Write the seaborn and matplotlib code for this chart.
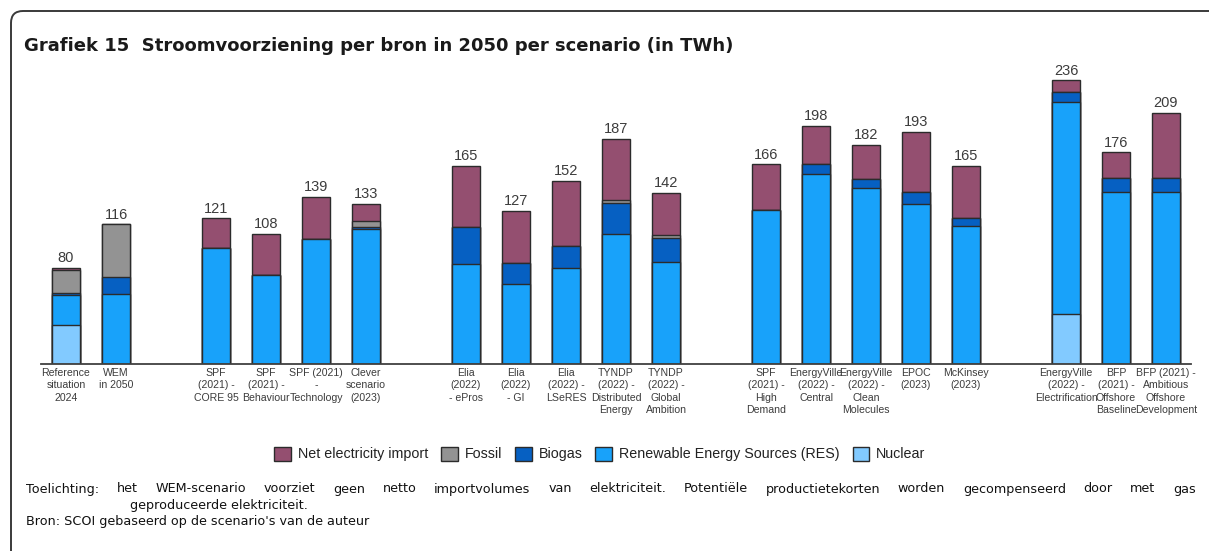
import numpy as np
import matplotlib
matplotlib.use("Agg")
import matplotlib.pyplot as plt
import seaborn as sns
from matplotlib import font_manager
from matplotlib.patches import FancyBboxPatch, Patch

# ---- data (TWh in 2050 per scenario) ----
scenarios = [
    "Reference\nsituation\n2024", "WEM\nin 2050",
    "SPF\n(2021) -\nCORE 95", "SPF\n(2021) -\nBehaviour", "SPF (2021)\n-\nTechnology",
    "Clever\nscenario\n(2023)",
    "Elia\n(2022)\n- ePros", "Elia\n(2022)\n- GI", "Elia\n(2022) -\nLSeRES",
    "TYNDP\n(2022) -\nDistributed\nEnergy", "TYNDP\n(2022) -\nGlobal\nAmbition",
    "SPF\n(2021) -\nHigh\nDemand", "EnergyVille\n(2022) -\nCentral",
    "EnergyVille\n(2022) -\nClean\nMolecules", "EPOC\n(2023)", "McKinsey\n(2023)",
    "EnergyVille\n(2022) -\nElectrification", "BFP\n(2021) -\nOffshore\nBaseline",
    "BFP (2021) -\nAmbitious\nOffshore\nDevelopment",
]
positions = [0, 1, 3, 4, 5, 6, 8, 9, 10, 11, 12, 14, 15, 16, 17, 18, 20, 21, 22]

nuclear    = [32, 0, 0, 0, 0, 0, 0, 0, 0, 0, 0, 0, 0, 0, 0, 0, 41, 0, 0]
res        = [25, 58, 96, 74, 104, 112, 83, 66, 80, 108, 85, 128, 158, 146, 133, 115, 177, 143, 143]
biogas     = [2, 14, 0, 0, 0, 2, 31, 18, 18, 26, 20, 0, 8, 8, 10, 6, 8, 12, 12]
fossil     = [19, 44, 0, 0, 0, 5, 0, 0, 0, 2, 2, 0, 0, 0, 0, 0, 0, 0, 0]
net_import = [2, 0, 25, 34, 35, 14, 51, 43, 54, 51, 35, 38, 32, 28, 50, 44, 10, 21, 54]

# stacking order, bottom to top
layers = [
    ("Nuclear", nuclear, "#82CAFF"),
    ("Renewable Energy Sources (RES)", res, "#18A2FA"),
    ("Biogas", biogas, "#0660C2"),
    ("Fossil", fossil, "#939393"),
    ("Net electricity import", net_import, "#944F70"),
]
legend_order = ["Net electricity import", "Fossil", "Biogas",
                "Renewable Energy Sources (RES)", "Nuclear"]

EDGE = "#2b2b2b"
TEXT = "#3c3c3c"

names = {f.name for f in font_manager.fontManager.ttflist}
body_font = "Liberation Sans" if "Liberation Sans" in names else "DejaVu Sans"

sns.set_theme(style="white")
plt.rcParams["font.family"] = [body_font, "DejaVu Sans"]

W, H = 1209, 551
fig = plt.figure(figsize=(W / 100, H / 100), dpi=100)

# background layer in pixel coordinates: rounded frame, title, notes
bg = fig.add_axes([0, 0, 1, 1], zorder=0)
bg.set_xlim(0, W)
bg.set_ylim(H, 0)
bg.axis("off")
bg.add_patch(FancyBboxPatch((11, 11), W + 40, H + 40,
                            boxstyle="round,pad=0,rounding_size=12",
                            fc="white", ec="#3a3a3a", lw=1.4))
bg.text(24, 46, "Grafiek 15  Stroomvoorziening per bron in 2050 per scenario (in TWh)",
        fontsize=13, fontweight="bold", family="DejaVu Sans", color="#1a1a1a",
        va="center", ha="left")

# ---- chart axes ----
base_px, px_per_twh, ymax = 363.5, 1.2, 250
ax_left, ax_right = 41, 1191
ax = fig.add_axes([ax_left / W, (H - base_px) / H,
                   (ax_right - ax_left) / W, ymax * px_per_twh / H], zorder=1)
ax.patch.set_alpha(0)

tops = []
cum = np.zeros(len(positions))
for _, vals, _ in layers:
    cum = cum + np.array(vals, dtype=float)
    tops.append(cum.copy())

for (name, vals, color), top in reversed(list(zip(layers, tops))):
    sns.barplot(x=positions, y=top, native_scale=True, color=color, saturation=1,
                width=0.56, edgecolor=EDGE, linewidth=1.0, errorbar=None, ax=ax)

totals = tops[-1]
for p, t in zip(positions, totals):
    ax.annotate(f"{t:.0f}", (p, t), xytext=(0, 2), textcoords="offset points",
                ha="center", va="bottom", fontsize=10.5, color=TEXT)

ax.set_xlim(-0.5, 22.5)
ax.set_ylim(0, ymax)
ax.set_xticks(positions)
ax.set_xticklabels(scenarios, fontsize=7.6, color=TEXT, linespacing=1.32)
ax.tick_params(axis="x", length=0, pad=3)
ax.set_yticks([])
ax.set_xlabel("")
ax.set_ylabel("")
for s in ["left", "right", "top"]:
    ax.spines[s].set_visible(False)
ax.spines["bottom"].set_color("#404040")
ax.spines["bottom"].set_linewidth(1.3)

# ---- legend ----
colors = {n: c for n, _, c in layers}
handles = [Patch(facecolor=colors[n], edgecolor=EDGE, linewidth=1.0, label=n)
           for n in legend_order]
fig.legend(handles=handles, loc="center", bbox_to_anchor=(600 / W, 1 - 454 / H),
           ncol=5, frameon=False, fontsize=10.3, handlelength=1.15, handleheight=1.15,
           handletextpad=0.5, columnspacing=0.9, labelcolor="#222222")

# ---- notes, first line justified ----
NOTE = dict(fontsize=9.2, family="DejaVu Sans", color="#111111", va="center", ha="left")
note_words = ("Toelichting: het WEM-scenario voorziet geen netto importvolumes van "
              "elektriciteit. Potentiële productietekorten worden gecompenseerd door "
              "met gas").split()
fig.canvas.draw()
renderer = fig.canvas.get_renderer()
x0, x1 = 26, 1196
objs = [bg.text(0, 489, w, **NOTE) for w in note_words]
widths = [o.get_window_extent(renderer).width for o in objs]
gap = (x1 - x0 - sum(widths)) / (len(objs) - 1)
x = x0
for o, w in zip(objs, widths):
    o.set_x(x)
    x += w + gap
bg.text(130, 506, "geproduceerde elektriciteit.", **NOTE)
bg.text(x0, 522, "Bron: SCOI gebaseerd op de scenario's van de auteur", **NOTE)

fig.savefig("out.png", dpi=100)
